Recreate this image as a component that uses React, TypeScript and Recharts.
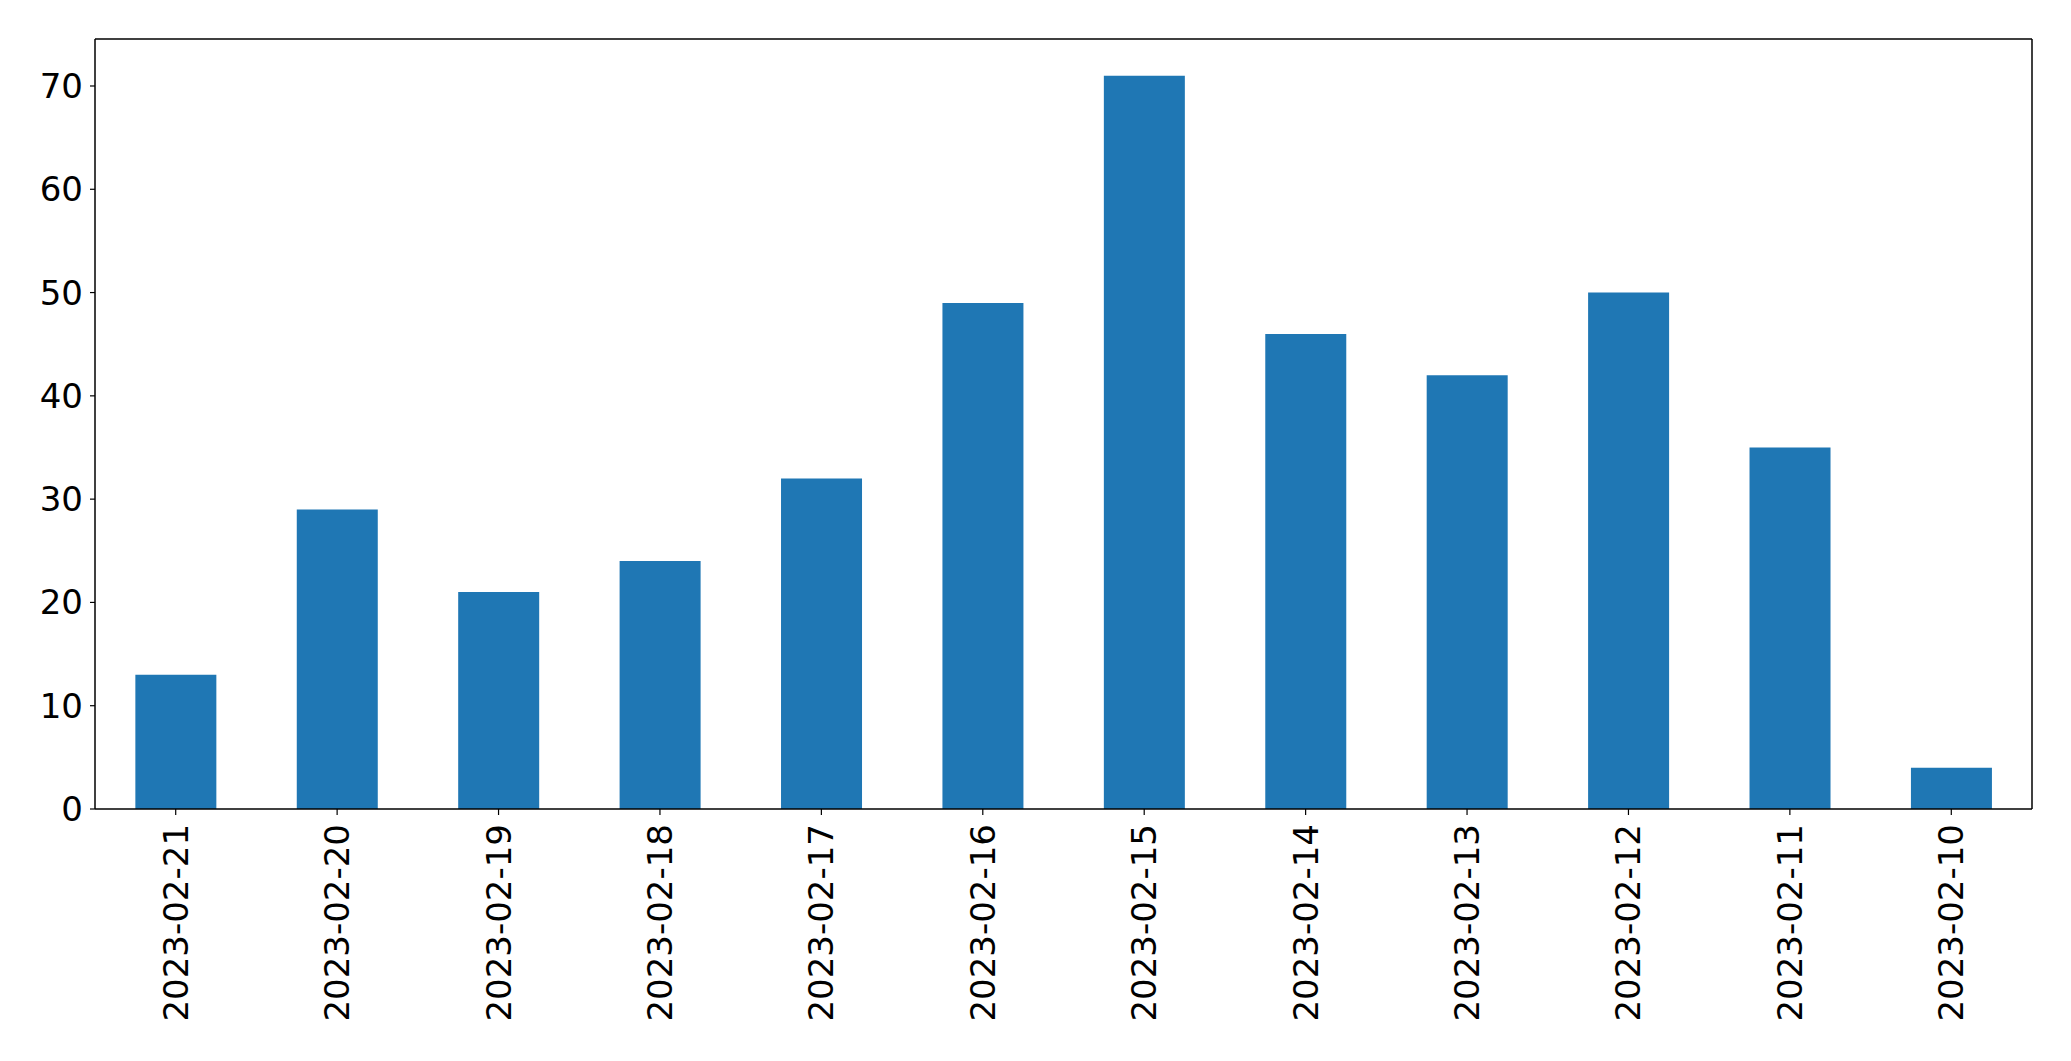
import React from "react";
import { BarChart, Bar, XAxis, YAxis } from "recharts";

const categories = [
  "2023-02-21", "2023-02-20", "2023-02-19", "2023-02-18", "2023-02-17", "2023-02-16",
  "2023-02-15", "2023-02-14", "2023-02-13", "2023-02-12", "2023-02-11", "2023-02-10",
];
const counts = [13, 29, 21, 24, 32, 49, 71, 46, 42, 50, 35, 4];
const yTicks = [0, 10, 20, 30, 40, 50, 60, 70];

const data = categories.map((c, i) => ({ date: c, count: counts[i] }));

const FONT = "DejaVu Sans";
const FS = 34;

const RotTick = (props: any) => {
  const { x, y, payload } = props;
  return (
    <text
      x={x}
      y={y}
      transform={`rotate(-90, ${x}, ${y})`}
      textAnchor="end"
      dominantBaseline="central"
      fontFamily={FONT}
      fontSize={FS}
      fill="#000"
    >
      {payload.value}
    </text>
  );
};

export default function App() {
  return (
    <div style={{ position: "absolute", left: 0, top: 0, background: "#fff" }}>
      <BarChart
        width={2071}
        height={1061}
        data={data}
        margin={{ top: 38, right: 38, left: 0, bottom: 0 }}
        barCategoryGap="25%"
      >
        <XAxis
          dataKey="date"
          height={252}
          interval={0}
          tick={<RotTick />}
          tickSize={6}
          tickMargin={9}
          axisLine={{ stroke: "#000", strokeWidth: 1.5 }}
          tickLine={{ stroke: "#000", strokeWidth: 1.2 }}
        />
        <XAxis
          xAxisId="top"
          dataKey="date"
          orientation="top"
          height={1}
          tick={false}
          tickLine={false}
          axisLine={{ stroke: "#000", strokeWidth: 1.5 }}
        />
        <YAxis
          width={95}
          domain={[0, 74.55]}
          ticks={yTicks}
          tickSize={5}
          tickMargin={7}
          tick={{ fontFamily: FONT, fontSize: FS, fill: "#000" }}
          axisLine={{ stroke: "#000", strokeWidth: 1.5 }}
          tickLine={{ stroke: "#000", strokeWidth: 1.2 }}
        />
        <YAxis
          yAxisId="right"
          orientation="right"
          width={1}
          domain={[0, 74.55]}
          tick={false}
          tickLine={false}
          axisLine={{ stroke: "#000", strokeWidth: 1.5 }}
        />
        <Bar dataKey="count" fill="#1f77b4" isAnimationActive={false} />
      </BarChart>
    </div>
  );
}
